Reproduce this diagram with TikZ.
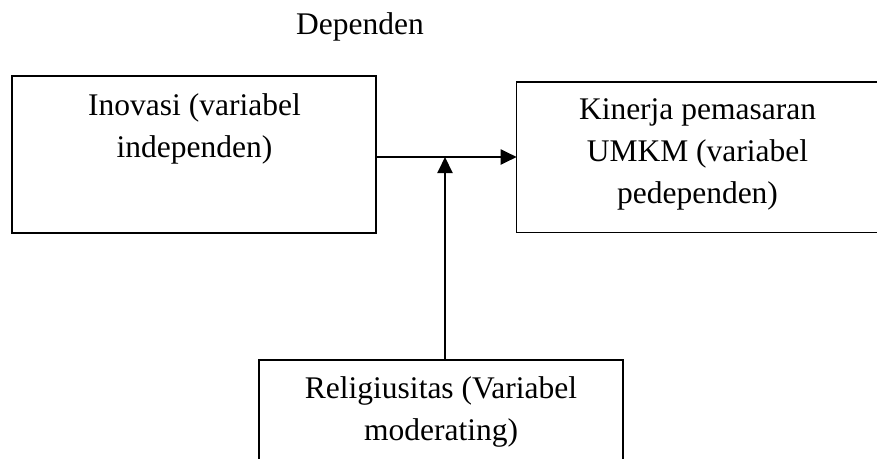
\documentclass[tikz,border=0pt]{standalone}
\usepackage{fontspec}
\setmainfont{Liberation Serif}
\usetikzlibrary{arrows.meta}
\begin{document}
\begin{tikzpicture}[x=1pt,y=-1pt,
  box/.style={draw,line width=1.5pt,rectangle,inner sep=0pt,outer sep=0pt},
  lbl/.style={font=\fontsize{31.5}{42}\selectfont,align=center,inner sep=0pt,anchor=base},
  arr/.style={line width=2pt,-{Triangle[length=16pt,width=15pt]}}]
\useasboundingbox (0,0) rectangle (877,458);
\node[box,minimum width=364pt,minimum height=157pt] (inov) at (194,154.5) {};
\node[box,minimum width=362.3pt,minimum height=150.7pt] (kin) at (697.85,157.35) {};
\node[box,minimum width=364pt,minimum height=104pt] (rel) at (441,412) {};
\node[lbl] (dep) at (360,34) {Dependen};
\node[lbl] (tinov) at (194.5,157) {Inovasi (variabel\\independen)};
\node[lbl] (tkin) at (697.5,203) {Kinerja pemasaran\\UMKM (variabel\\pedependen)};
\node[lbl] (trel) at (441,440) {Religiusitas (Variabel\\moderating)};
\coordinate (j) at (445,157);
\draw[arr] (inov.east |- j) -- (kin.west |- j);
\draw[arr] (rel.north -| j) -- (j);
\end{tikzpicture}
\end{document}
